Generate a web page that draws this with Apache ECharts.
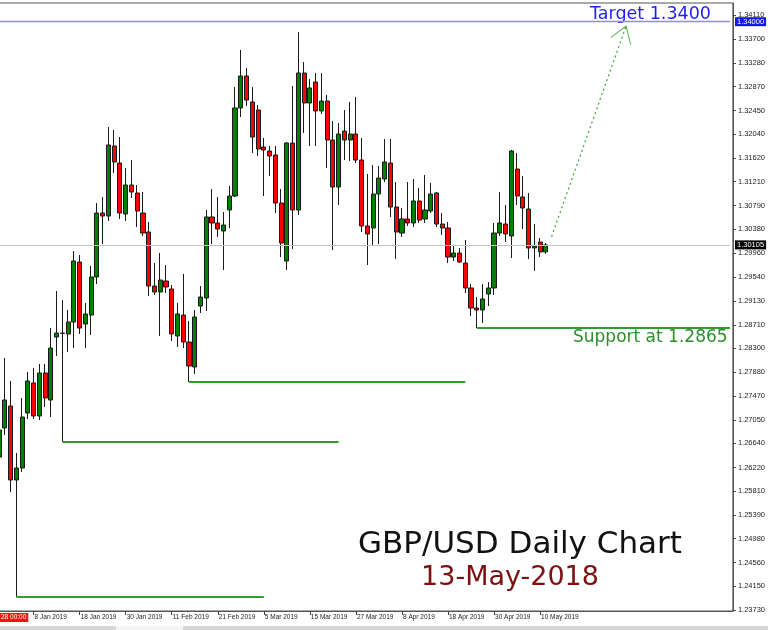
<!DOCTYPE html>
<html><head><meta charset="utf-8">
<script src="https://cdn.jsdelivr.net/npm/echarts@6/dist/echarts.min.js"></script>
<style>html,body{margin:0;padding:0;background:#fff;overflow:hidden;width:768px;height:630px;position:relative;}
#c{position:absolute;left:-4px;top:0;width:772px;height:630px;}</style>
</head><body><div id="c"></div>
<script>
const dates = ['28 Dec 2018','31 Dec 2018','2 Jan 2019','3 Jan 2019','4 Jan 2019','7 Jan 2019','8 Jan 2019','9 Jan 2019','10 Jan 2019','11 Jan 2019',
'14 Jan 2019','15 Jan 2019','16 Jan 2019','17 Jan 2019','18 Jan 2019','21 Jan 2019','22 Jan 2019','23 Jan 2019','24 Jan 2019','25 Jan 2019',
'28 Jan 2019','29 Jan 2019','30 Jan 2019','31 Jan 2019','1 Feb 2019','4 Feb 2019','5 Feb 2019','6 Feb 2019','7 Feb 2019','8 Feb 2019',
'11 Feb 2019','12 Feb 2019','13 Feb 2019','14 Feb 2019','15 Feb 2019','18 Feb 2019','19 Feb 2019','20 Feb 2019','21 Feb 2019','22 Feb 2019',
'25 Feb 2019','26 Feb 2019','27 Feb 2019','28 Feb 2019','1 Mar 2019','4 Mar 2019','5 Mar 2019','6 Mar 2019','7 Mar 2019','8 Mar 2019',
'11 Mar 2019','12 Mar 2019','13 Mar 2019','14 Mar 2019','15 Mar 2019','18 Mar 2019','19 Mar 2019','20 Mar 2019','21 Mar 2019','22 Mar 2019',
'25 Mar 2019','26 Mar 2019','27 Mar 2019','28 Mar 2019','29 Mar 2019','1 Apr 2019','2 Apr 2019','3 Apr 2019','4 Apr 2019','5 Apr 2019',
'8 Apr 2019','9 Apr 2019','10 Apr 2019','11 Apr 2019','12 Apr 2019','15 Apr 2019','16 Apr 2019','17 Apr 2019','18 Apr 2019','19 Apr 2019',
'22 Apr 2019','23 Apr 2019','24 Apr 2019','25 Apr 2019','26 Apr 2019','29 Apr 2019','30 Apr 2019','1 May 2019','2 May 2019','3 May 2019',
'6 May 2019','7 May 2019','8 May 2019','9 May 2019','10 May 2019','13 May 2019'];

const opens = [1.26403,1.26909,1.27293,1.26002,1.26211,1.27171,1.27695,1.27119,1.27869,1.27398,
1.28497,1.28560,1.28550,1.28759,1.29806,1.28724,1.28881,1.29545,1.30661,1.30609,
1.31831,1.31534,1.30644,1.31150,1.31011,1.30661,1.30330,1.29387,1.29283,1.29475,
1.29335,1.28515,1.28881,1.28410,1.27974,1.29038,1.29178,1.30592,1.30487,1.30347,
1.30714,1.30958,1.32494,1.33052,1.32599,1.32459,1.31813,1.31743,1.31674,1.30836,
1.29824,1.31883,1.30714,1.33105,1.32581,1.32948,1.32442,1.32616,1.31935,1.31115,
1.32092,1.31935,1.32040,1.31586,1.30435,1.30400,1.30993,1.31255,1.31534,1.30766,
1.30312,1.30557,1.30487,1.30871,1.30557,1.30696,1.31011,1.30469,1.30400,1.29893,
1.29963,1.29789,1.29353,1.29003,1.28969,1.29248,1.29353,1.30312,1.30469,1.30260,
1.31429,1.30941,1.30731,1.30051,1.30155,1.29981];

const closes = [1.26874,1.27398,1.26002,1.26211,1.27101,1.27730,1.27119,1.27869,1.27433,1.28305,
1.28567,1.28565,1.28759,1.29824,1.28654,1.28899,1.29545,1.30661,1.30609,1.31848,
1.31552,1.30661,1.31150,1.31028,1.30696,1.30312,1.29387,1.29283,1.29492,1.29370,
1.28550,1.28899,1.28410,1.27991,1.28846,1.29195,1.30592,1.30487,1.30382,1.30452,
1.30958,1.32494,1.33052,1.32633,1.31988,1.31778,1.31761,1.31656,1.30836,1.30138,
1.31883,1.30714,1.33105,1.32581,1.32843,1.32442,1.32616,1.31935,1.31115,1.32040,
1.31935,1.32040,1.31586,1.30435,1.30295,1.30993,1.31272,1.31552,1.30766,1.30330,
1.30557,1.30487,1.30871,1.30539,1.30714,1.30993,1.30469,1.30400,1.29893,1.29963,
1.29806,1.29353,1.29003,1.28969,1.29161,1.29353,1.30312,1.30487,1.30295,1.31743,
1.30958,1.30749,1.30051,1.30085,1.29981,1.30105];

const highs = [1.26962,1.28131,1.27730,1.26473,1.27433,1.27887,1.27956,1.28026,1.28026,1.28654,
1.29300,1.29143,1.28969,1.29998,1.29928,1.29091,1.29736,1.30836,1.30941,1.32162,
1.32110,1.31988,1.31447,1.31586,1.31150,1.31028,1.30504,1.29789,1.29963,1.29754,
1.29405,1.29091,1.29597,1.28777,1.28969,1.29387,1.30714,1.31080,1.30941,1.30679,
1.31133,1.32860,1.33506,1.33192,1.32860,1.32546,1.31970,1.31831,1.31831,1.31080,
1.31901,1.32878,1.33820,1.33297,1.33000,1.33105,1.33105,1.32721,1.32267,1.32232,
1.32459,1.32599,1.32686,1.31970,1.31342,1.31499,1.31482,1.31953,1.31953,1.31202,
1.30749,1.31202,1.31255,1.31098,1.31325,1.31185,1.31030,1.30661,1.30504,1.30085,
1.30051,1.30190,1.29422,1.29195,1.29422,1.29457,1.30487,1.31028,1.30801,1.31761,
1.31709,1.31307,1.31011,1.30469,1.30225,1.30138];

const lows = [1.26316,1.26787,1.25792,1.23960,1.26141,1.27066,1.27066,1.27049,1.27276,1.27101,
1.28166,1.26670,1.28236,1.28305,1.28550,1.28305,1.28532,1.29422,1.30120,1.30522,
1.31360,1.30557,1.30522,1.30923,1.30417,1.30260,1.29213,1.29230,1.28515,1.29265,
1.28428,1.28323,1.28305,1.27712,1.27852,1.28916,1.28951,1.30120,1.30243,1.29667,
1.30400,1.30941,1.32337,1.32529,1.31709,1.31656,1.30958,1.31307,1.30661,1.29893,
1.29667,1.30033,1.30627,1.32058,1.31831,1.31831,1.32389,1.31447,1.30016,1.30801,
1.31586,1.31569,1.31534,1.30330,1.29754,1.30085,1.30120,1.31202,1.30592,1.29859,
1.30243,1.30435,1.30417,1.30487,1.30487,1.30661,1.30417,1.30277,1.29789,1.29824,
1.29789,1.29265,1.28864,1.28654,1.28742,1.29038,1.29230,1.30260,1.30155,1.29876,
1.30801,1.30382,1.29859,1.29649,1.29893,1.29946];

const yTickLabels = [1.34110,1.33700,1.33280,1.32870,1.32450,1.32040,1.31620,1.31210,1.30790,1.30380,
1.29960,1.29540,1.29130,1.28710,1.28300,1.27880,1.27470,1.27050,1.26640,1.26220,
1.25810,1.25390,1.24980,1.24560,1.24150,1.23730];
const xTickLabels = ['8 Jan 2019','18 Jan 2019','30 Jan 2019','11 Feb 2019','21 Feb 2019','5 Mar 2019',
'15 Mar 2019','27 Mar 2019','8 Apr 2019','18 Apr 2019','30 Apr 2019','10 May 2019'];

const supportIdx = [3, 11, 33, 83];
const supportEndIdx = [46, 59, 81, 127];
const targetLevel = 1.34;
const lastPrice = 1.30105;
const arrowFrom = [96, 1.3025];
const arrowTo = [109, 1.3394];
const futureSlots = 32;

const categories = dates.concat(Array.from({length: futureSlots}, (_, i) => 'slot' + i));
const lastSlot = categories.length - 1;
const ohlc = dates.map((d, i) => [opens[i], closes[i], lows[i], highs[i]]);

const supportLines = supportIdx.map((idx, k) => [
  {coord: [idx, lows[idx]]},
  {coord: [supportEndIdx[k], lows[idx]]}
]);

const showTick = (index, value) => xTickLabels.indexOf(value) >= 0;
const FONT = '"Liberation Sans", Arial, sans-serif';
const DX = 4; // container is shifted 4px left of the page
const ARROW_HEAD = 'path://M5,0 L5.02,0 L5,0.02 Z M5,14 L10,28 L9.55,28 L5,15.3 L0.45,28 L0,28 Z';
const tagLabel = (bg) => ({show: true, position: 'end', distance: 5, formatter: p => Number(p.value).toFixed(5),
  backgroundColor: bg, color: '#fff', fontSize: 7.5, fontFamily: FONT, padding: [1, 2, 0, 2]});

const chart = echarts.init(document.getElementById('c'), null, {renderer: 'canvas'});
chart.setOption({
  animation: false,
  backgroundColor: '#ffffff',
  grid: {left: 0.2, right: 35, top: 3, bottom: 19, show: true, borderColor: '#555', borderWidth: 1, backgroundColor: '#fff'},
  xAxis: {
    type: 'category', data: categories, boundaryGap: true,
    axisLine: {show: true, lineStyle: {color: '#555', width: 1}},
    axisTick: {show: true, interval: showTick, alignWithLabel: true, length: 4, lineStyle: {color: '#444'}},
    axisLabel: {show: true, interval: showTick, align: 'left', margin: 3, fontSize: 6.5, color: '#222', fontFamily: FONT, padding: [0,0,0,1]},
    splitLine: {show: false}
  },
  yAxis: {
    type: 'value', position: 'right', min: 1.237155, max: 1.343264, scale: true,
    axisLine: {show: true, lineStyle: {color: '#555', width: 1}},
    axisTick: {show: true, customValues: yTickLabels, length: 3, lineStyle: {color: '#444'}},
    axisLabel: {show: true, customValues: yTickLabels, margin: 5, fontSize: 7.5, color: '#222', fontFamily: FONT,
      formatter: v => Number(v).toFixed(5)},
    splitLine: {show: false}
  },
  series: [{
    type: 'candlestick',
    data: ohlc,
    barWidth: 4.6,
    itemStyle: {color: '#008000', color0: '#ff0000', borderColor: '#1a1a1a', borderColor0: '#1a1a1a', borderWidth: 1},
    silent: true,
    markLine: {
      silent: true, symbol: 'none', animation: false, precision: 5, z: 5,
      data: [
        [
          {coord: [0, targetLevel], value: targetLevel, lineStyle: {color: '#8c8cf4', width: 1.3, type: 'solid'}, label: tagLabel('#1515ee')},
          {coord: [lastSlot, targetLevel]}
        ],
        [
          {coord: [0, lastPrice], value: lastPrice, lineStyle: {color: '#c4c4c4', width: 1, type: 'solid'}, label: tagLabel('#000')},
          {coord: [lastSlot, lastPrice]}
        ],
        ...supportLines.map(l => [
          Object.assign({lineStyle: {color: '#2e9e2e', width: 2, type: 'solid'}, label: {show: false}}, l[0]),
          l[1]
        ]),
        [
          {coord: arrowFrom, symbol: 'none', lineStyle: {color: '#3aa63a', width: 1.2, type: [2, 3]}, label: {show: false}},
          {coord: arrowTo, symbol: ARROW_HEAD, symbolSize: [22, 34]}
        ]
      ]
    }
  }],
  graphic: [
    {type: 'text', x: 590 + DX, y: 14, style: {text: 'Target 1.3400', font: '17.5px "DejaVu Sans"', fill: '#1f1ff5', verticalAlign: 'middle'}},
    {type: 'text', x: 573 + DX, y: 338, style: {text: 'Support at 1.2865', font: '17px "DejaVu Sans"', fill: '#2a8f2a', verticalAlign: 'middle'}},
    {type: 'text', x: 520 + DX, y: 545, style: {text: 'GBP/USD Daily Chart', font: '31px "DejaVu Sans"', fill: '#111', align: 'center', verticalAlign: 'middle'}},
    {type: 'text', x: 510 + DX, y: 578, style: {text: '13-May-2018', font: '27px "DejaVu Sans"', fill: '#7d1010', align: 'center', verticalAlign: 'middle'}},
    {type: 'text', x: 0 + DX, y: 613, style: {text: '28 00:00', font: '6.5px "Liberation Sans"', fill: '#fff', backgroundColor: '#ff1010', padding: [1, 2, 1, 1]}},
    {type: 'rect', shape: {x: 0, y: 626, width: 772, height: 4}, style: {fill: '#d6d6d6'}},
    {type: 'rect', shape: {x: 116 + DX, y: 626, width: 67, height: 4}, style: {fill: '#f4f4f4'}}
  ]
});
</script></body></html>
